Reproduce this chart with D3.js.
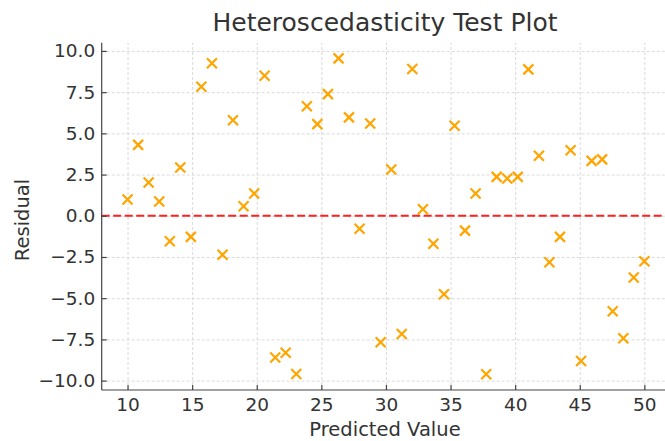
<!DOCTYPE html>
<html>
<head>
<meta charset="utf-8">
<script src="https://cdn.jsdelivr.net/npm/d3@7"></script>
<style>
  body { margin: 0; background: #fff; }
  text { font-family: "DejaVu Sans", sans-serif; fill: #333; }
  .grid line { stroke: #d0d0d0; stroke-width: 0.8; stroke-dasharray: 3,2; }
  .grid path { display: none; }
  .axis path, .axis line { stroke: #444; stroke-width: 1.2; }
</style>
</head>
<body>
<div id="chart"></div>
<script>
// predicted values (x) and residuals (y)
var predicted = [10.00, 10.82, 11.63, 12.45, 13.27, 14.08, 14.90, 15.71, 16.53, 17.35,
                 18.16, 18.98, 19.80, 20.61, 21.43, 22.24, 23.06, 23.88, 24.69, 25.51,
                 26.33, 27.14, 27.96, 28.78, 29.59, 30.41, 31.22, 32.04, 32.86, 33.67,
                 34.49, 35.31, 36.12, 36.94, 37.76, 38.57, 39.39, 40.20, 41.02, 41.84,
                 42.65, 43.47, 44.29, 45.10, 45.92, 46.73, 47.55, 48.37, 49.18, 50.00];
var residuals = [0.99, 4.30, 2.02, 0.87, -1.54, 2.93, -1.28, 7.83, 9.25, -2.37,
                 5.80, 0.58, 1.35, 8.49, -8.60, -8.31, -9.60, 6.65, 5.56, 7.38,
                 9.55, 5.97, -0.79, 5.60, -7.67, 2.81, -7.17, 8.90, 0.40, -1.70,
                 -4.76, 5.46, -0.90, 1.35, -9.62, 2.36, 2.26, 2.36, 8.88, 3.64,
                 -2.82, -1.28, 3.98, -8.81, 3.33, 3.42, -5.79, -7.43, -3.75, -2.76];
var xTicks = [10, 15, 20, 25, 30, 35, 40, 45, 50];
var yTicks = [-10, -7.5, -5, -2.5, 0, 2.5, 5, 7.5, 10];

var W = 665, H = 441;
var margin = {top: 42.7, right: -5.2, bottom: 51, left: 101.7}
  , width = W - margin.left - margin.right
  , height = H - margin.top - margin.bottom;

var xScale = d3.scaleLinear().domain([8, 52]).range([0, width]);
var yScale = d3.scaleLinear().domain([-10.57, 10.5]).range([height, 0]);

var svgRoot = d3.select("#chart").append("svg")
  .attr("width", W)
  .attr("height", H);

var svg = svgRoot.append("g")
  .attr("transform", "translate(" + margin.left + "," + margin.top + ")");

// gridlines
svg.append("g")
  .attr("class", "grid")
  .call(d3.axisLeft(yScale).tickValues(yTicks).tickSize(-width).tickFormat(""));
svg.append("g")
  .attr("class", "grid")
  .attr("transform", "translate(0," + height + ")")
  .call(d3.axisBottom(xScale).tickValues(xTicks).tickSize(height).tickFormat(""))
  .selectAll("line").attr("y2", -height);

// zero reference line
svg.append("line")
  .attr("x1", 0).attr("x2", width)
  .attr("y1", yScale(0)).attr("y2", yScale(0))
  .attr("stroke", "#ff2020")
  .attr("stroke-width", 2.2)
  .attr("stroke-dasharray", "8,3.5");

// x markers
var s = 5;
var pts = svg.append("g").selectAll("path")
  .data(predicted.map(function(d, i) { return {x: d, y: residuals[i]}; }))
  .enter().append("path")
  .attr("transform", function(d) { return "translate(" + xScale(d.x) + "," + yScale(d.y) + ")"; })
  .attr("d", "M" + -s + "," + -s + "L" + s + "," + s + "M" + -s + "," + s + "L" + s + "," + -s)
  .attr("stroke", "#ffa500")
  .attr("stroke-width", 2.2)
  .attr("fill", "none");

// axes, ticks point inward
var xAxis = svg.append("g")
  .attr("class", "x axis")
  .attr("transform", "translate(0," + height + ")")
  .call(d3.axisBottom(xScale).tickValues(xTicks).tickSizeInner(-5).tickSizeOuter(0).tickPadding(7.6));
xAxis.select(".domain").attr("d", "M0,0H" + width);
xAxis.selectAll("text").attr("font-size", "18.5px");

var yAxis = svg.append("g")
  .attr("class", "y axis")
  .call(d3.axisLeft(yScale).tickValues(yTicks).tickSizeInner(-5).tickSizeOuter(0).tickPadding(6.5)
    .tickFormat(function(d) { return d3.format(".1f")(d).replace("-", "\u2212"); }));
yAxis.select(".domain").attr("d", "M0," + height + "V0");
yAxis.selectAll("text").attr("font-size", "18.5px");

d3.selectAll(".axis text").style("fill", "#333").attr("font-family", "DejaVu Sans");

// labels
svgRoot.append("text")
  .attr("x", 385)
  .attr("y", 31)
  .attr("text-anchor", "middle")
  .attr("font-size", "25px")
  .text("Heteroscedasticity Test Plot");

svgRoot.append("text")
  .attr("x", 385)
  .attr("y", 436)
  .attr("text-anchor", "middle")
  .attr("font-size", "19.5px")
  .text("Predicted Value");

svgRoot.append("text")
  .attr("transform", "translate(28.5,220) rotate(-90)")
  .attr("text-anchor", "middle")
  .attr("font-size", "19.5px")
  .text("Residual");
</script>
</body>
</html>
